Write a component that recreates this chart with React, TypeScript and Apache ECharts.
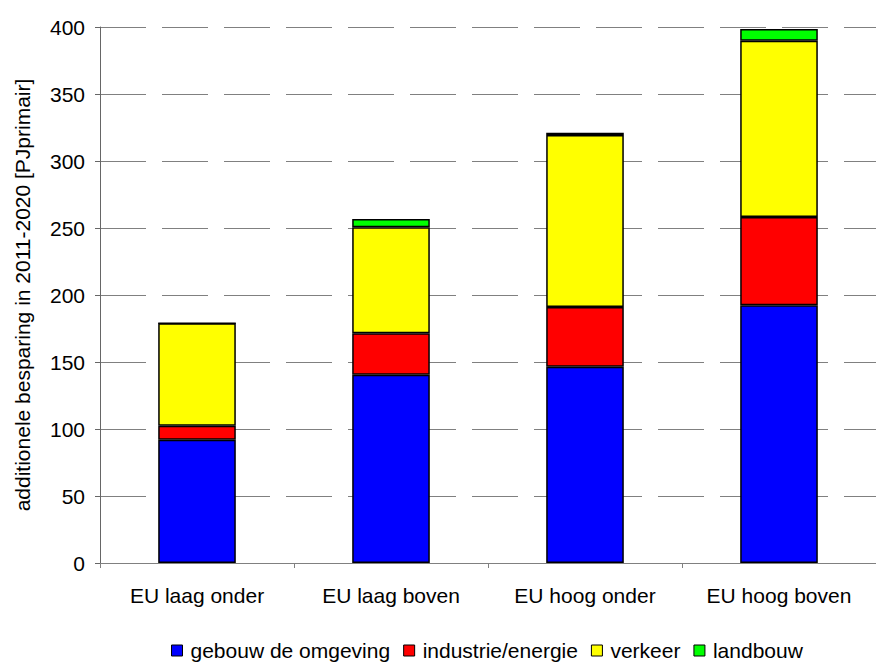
import React, { useEffect, useRef } from "react";
import * as echarts from "echarts";

const categories = ["EU laag onder", "EU laag boven", "EU hoog onder", "EU hoog boven"];
const seriesNames = ["gebouw de omgeving", "industrie/energie", "verkeer", "landbouw"];
const gebouwd = [92, 140.5, 146.5, 192.3];
const industrie = [10.5, 31, 44.5, 66];
const verkeer = [76.5, 79, 128.4, 131.5];
const landbouw = [0, 6.2, 1.6, 8.7];
const colors = ["#0000ff", "#ff0000", "#ffff00", "#00ff00"];
const yTicks = { min: 0, max: 400, interval: 50 };

const FONT = "Liberation Sans, Arial, sans-serif";
const FS = 21;

export default function App() {
  const ref = useRef<HTMLDivElement>(null);
  useEffect(() => {
    if (!ref.current) return;
    const chart = echarts.init(ref.current, null, { renderer: "svg" });
    const values = [gebouwd, industrie, verkeer, landbouw];
    chart.setOption({
      animation: false,
      backgroundColor: "#ffffff",
      textStyle: { fontFamily: FONT },
      grid: { left: 100, top: 27, width: 784, height: 536, containLabel: false },
      legend: {
        data: seriesNames,
        left: 171,
        top: 640,
        padding: 0,
        itemWidth: 11,
        itemHeight: 11,
        itemGap: 13,
        icon: "rect",
        textStyle: { fontFamily: FONT, fontSize: FS, color: "#000", padding: [0, 0, 0, 3] },
        itemStyle: { borderColor: "#000", borderWidth: 1 },
      },
      xAxis: {
        type: "category",
        data: categories,
        axisLine: { lineStyle: { color: "#808080", width: 1 } },
        axisTick: { show: true, length: 5, alignWithLabel: false, lineStyle: { color: "#808080" } },
        axisLabel: { fontFamily: FONT, fontSize: FS, color: "#000", margin: 22, interval: 0 },
      },
      yAxis: {
        type: "value",
        min: yTicks.min,
        max: yTicks.max,
        interval: yTicks.interval,
        name: "additionele besparing in 2011-2020 [PJprimair]",
        nameLocation: "middle",
        nameRotate: 90,
        nameGap: 67,
        nameTextStyle: { fontFamily: FONT, fontSize: FS, color: "#000" },
        axisLine: { show: true, lineStyle: { color: "#666", width: 1 } },
        axisTick: { show: true, length: 5, lineStyle: { color: "#666" } },
        axisLabel: { fontFamily: FONT, fontSize: FS, color: "#000", margin: 15 },
        splitLine: {
          show: true,
          lineStyle: { color: "#808080", width: 1, type: [46, 16] },
        },
      },
      series: seriesNames.map((name, i) => ({
        name,
        type: "bar",
        stack: "total",
        data: values[i],
        barWidth: "40%",
        itemStyle: { color: colors[i], borderColor: "#000", borderWidth: 1.5 },
      })),
    });
    return () => chart.dispose();
  }, []);
  return (
    <div
      ref={ref}
      style={{ position: "fixed", left: 0, top: 0, width: 876, height: 666 }}
    />
  );
}
